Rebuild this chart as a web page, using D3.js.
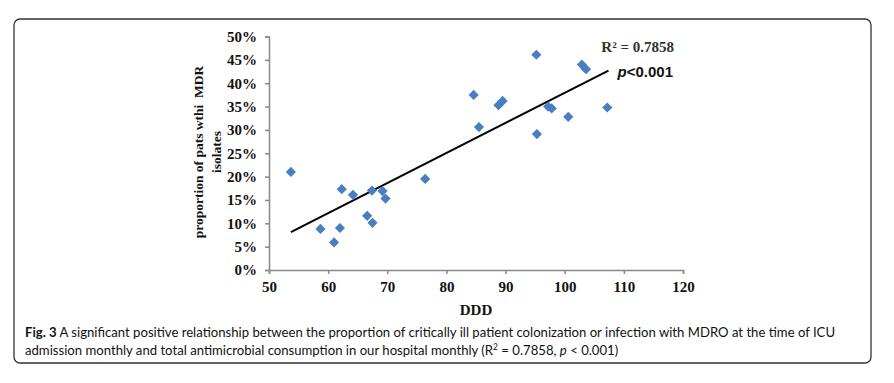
<!DOCTYPE html>
<html>
<head>
<meta charset="utf-8">
<script src="https://cdn.jsdelivr.net/npm/d3@7"></script>
<style>
  body { margin: 0; background: #fff; }
  svg { display: block; }
</style>
</head>
<body>
<svg id="chart" width="894" height="383"></svg>
<script>
// DDD (x) vs proportion of patients with MDR isolates (y, %)
var ddd = [53.7, 58.7, 61.0, 62.0, 62.3, 64.2, 66.6, 67.5, 67.4, 69.2, 69.7, 76.4,
           84.6, 85.5, 88.8, 89.5, 95.2, 95.3, 97.2, 97.8, 100.6, 102.9, 103.6, 107.2];
var mdr = [21.0, 8.8, 5.9, 9.0, 17.3, 16.1, 11.6, 10.1, 17.0, 16.9, 15.3, 19.5,
           37.5, 30.6, 35.3, 36.2, 46.1, 29.1, 35.0, 34.6, 32.8, 44.0, 43.0, 34.8];
var trendX = [53.7, 107.4];
var trendY = [8.1, 42.7];
var xTicks = [50, 60, 70, 80, 90, 100, 110, 120];
var yTicks = [0, 5, 10, 15, 20, 25, 30, 35, 40, 45, 50];

var svg = d3.select("#chart");

// figure frame
svg.append("rect")
    .attr("x", 14).attr("y", 19)
    .attr("width", 857).attr("height", 344)
    .attr("rx", 6).attr("ry", 6)
    .attr("fill", "none")
    .attr("stroke", "#333")
    .attr("stroke-width", 1.3);

var x = d3.scaleLinear().domain([50, 120]).range([269, 683]);
var y = d3.scaleLinear().domain([0, 50]).range([270, 36.5]);

var serif = "'Liberation Serif', 'Times New Roman', serif";

var yAxis = svg.append("g")
    .attr("transform", "translate(" + x(50) + ",0)")
    .call(d3.axisLeft(y).tickValues(yTicks).tickSize(4).tickPadding(8)
        .tickFormat(function(d) { return d + "%"; }));

var xAxis = svg.append("g")
    .attr("transform", "translate(0," + y(0) + ")")
    .call(d3.axisBottom(x).tickValues(xTicks).tickSize(4).tickPadding(7));

[xAxis, yAxis].forEach(function(a) {
    a.select(".domain").attr("stroke", "#888").attr("stroke-width", 1.5);
    a.selectAll(".tick line").attr("stroke", "#888").attr("stroke-width", 1.5);
    a.selectAll(".tick text")
        .attr("fill", "#111")
        .style("font-family", serif)
        .style("font-weight", "bold")
        .style("font-size", "15px");
});

// axis titles
svg.append("text")
    .attr("x", x(85)).attr("y", 315)
    .attr("text-anchor", "middle")
    .style("font-family", serif).style("font-weight", "bold").style("font-size", "15px")
    .attr("fill", "#111")
    .text("DDD");

var ylab = svg.append("text")
    .attr("transform", "translate(0,152) rotate(-90)")
    .attr("text-anchor", "middle")
    .style("font-family", serif).style("font-weight", "bold").style("font-size", "13.5px")
    .attr("fill", "#111");
ylab.append("tspan").attr("x", 0).attr("y", 203).text("proportion of pats wthi\u00a0\u00a0MDR");
ylab.append("tspan").attr("x", 0).attr("y", 221).text("isolates");

// trend line
var line = d3.line()
    .x(function(d) { return x(d[0]); })
    .y(function(d) { return y(d[1]); });
svg.append("path")
    .datum(d3.zip(trendX, trendY))
    .attr("d", line)
    .attr("fill", "none")
    .attr("stroke", "#000")
    .attr("stroke-width", 2);

// points
var diamond = d3.symbol().type(d3.symbolDiamond2).size(66);
svg.selectAll(".pt")
    .data(d3.zip(ddd, mdr))
    .enter().append("path")
    .attr("class", "pt")
    .attr("d", diamond)
    .attr("transform", function(d) { return "translate(" + x(d[0]) + "," + y(d[1]) + ")"; })
    .attr("fill", "#4a7ec2");

// annotations
svg.append("text")
    .attr("x", 674).attr("y", 52)
    .attr("text-anchor", "end")
    .style("font-family", serif).style("font-weight", "bold").style("font-size", "15px")
    .attr("fill", "#333")
    .text("R\u00b2 = 0.7858");

var pv = svg.append("text")
    .attr("x", 673).attr("y", 77)
    .attr("text-anchor", "end")
    .style("font-family", "'Liberation Sans', Arial, sans-serif").style("font-weight", "bold").style("font-size", "15px")
    .attr("fill", "#111");
pv.append("tspan").style("font-style", "italic").text("p");
pv.append("tspan").text("<0.001");

// caption
var cap = svg.append("g");
var capFont = "Lato, 'Open Sans', sans-serif";
var l1 = cap.append("text")
    .attr("x", 25).attr("y", 337)
    .style("font-family", capFont).style("font-size", "14px").attr("fill", "#111");
l1.append("tspan").style("font-weight", "bold").text("Fig. 3");
l1.append("tspan").text(" A significant positive relationship between the proportion of critically ill patient colonization or infection with MDRO at the time of ICU");

var l2 = cap.append("text")
    .attr("x", 25).attr("y", 355)
    .style("font-family", capFont).style("font-size", "14px").attr("fill", "#111");
l2.append("tspan").text("admission monthly and total antimicrobial consumption in our hospital monthly (R");
l2.append("tspan").attr("dy", -5).style("font-size", "9px").text("2");
l2.append("tspan").attr("dy", 5).text(" = 0.7858, ");
l2.append("tspan").style("font-style", "italic").text("p");
l2.append("tspan").text(" < 0.001)");

var w1 = l1.node().getComputedTextLength();
var sx = 811 / w1;
cap.attr("transform", "translate(25,0) scale(" + sx + ",1) translate(-25,0)");
</script>
</body>
</html>
